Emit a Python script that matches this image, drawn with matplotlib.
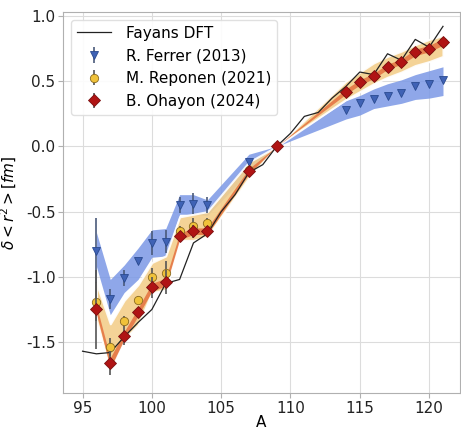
import numpy as np
import matplotlib
matplotlib.use("Agg")
import matplotlib.pyplot as plt

# Fayans DFT curve
fayans_A = list(range(95, 122))
fayans_val = [-1.57, -1.59, -1.58, -1.46, -1.35, -1.25, -1.05, -1.02, -0.74, -0.67,
              -0.50, -0.37, -0.20, -0.14, 0.0, 0.10, 0.23, 0.26, 0.37, 0.46,
              0.57, 0.55, 0.71, 0.66, 0.82, 0.76, 0.92]

# R. Ferrer (2013)
ferrer_A = [96, 97, 98, 99, 100, 101, 102, 103, 104, 107,
            114, 115, 116, 117, 118, 119, 120, 121]
ferrer_val = [-0.80, -1.17, -1.01, -0.88, -0.74, -0.73, -0.45, -0.44, -0.45, -0.12,
              0.28, 0.33, 0.36, 0.39, 0.41, 0.46, 0.48, 0.51]
ferrer_err = [0.25, 0.08, 0.06, 0.02, 0.09, 0.09, 0.06, 0.08, 0.06, 0.02,
              0.01, 0.01, 0.01, 0.01, 0.01, 0.01, 0.01, 0.01]
ferrer_band_A = [96, 97, 98, 99, 100, 101, 102, 103, 104, 107, 109,
                 114, 115, 116, 117, 118, 119, 120, 121]
ferrer_lo = [-0.92, -1.29, -1.12, -1.02, -0.85, -0.84, -0.52, -0.52, -0.53, -0.20, 0.0,
             0.21, 0.24, 0.29, 0.31, 0.33, 0.36, 0.37, 0.39]
ferrer_hi = [-0.66, -1.02, -0.91, -0.78, -0.64, -0.63, -0.37, -0.37, -0.41, -0.06, 0.0,
             0.35, 0.39, 0.44, 0.48, 0.51, 0.55, 0.58, 0.61]

# M. Reponen (2021)
reponen_A = [96, 97, 98, 99, 100, 101, 102, 103, 104, 107,
             114, 115, 116, 117, 118, 119, 120, 121]
reponen_val = [-1.19, -1.54, -1.34, -1.18, -1.00, -0.97, -0.65, -0.61, -0.59, -0.18,
               0.42, 0.49, 0.54, 0.61, 0.65, 0.72, 0.75, 0.80]
reponen_err = [0.15, 0.07, 0.04, 0.03, 0.07, 0.09, 0.04, 0.06, 0.04, 0.02,
               0.01, 0.01, 0.01, 0.01, 0.01, 0.01, 0.01, 0.01]
reponen_band_A = [96, 97, 98, 99, 100, 101, 102, 103, 104, 107, 109,
                  114, 115, 116, 117, 118, 119, 120, 121]
reponen_lo = [-1.33, -1.72, -1.48, -1.37, -1.12, -1.10, -0.72, -0.72, -0.69, -0.24, 0.0,
              0.36, 0.42, 0.48, 0.53, 0.57, 0.62, 0.65, 0.69]
reponen_hi = [-1.05, -1.36, -1.18, -1.06, -0.89, -0.84, -0.54, -0.52, -0.50, -0.12, 0.0,
              0.50, 0.57, 0.64, 0.69, 0.73, 0.78, 0.82, 0.85]

# B. Ohayon (2024)
ohayon_A = [96, 97, 98, 99, 100, 101, 102, 103, 104, 107, 109,
            114, 115, 116, 117, 118, 119, 120, 121]
ohayon_val = [-1.25, -1.66, -1.45, -1.27, -1.08, -1.04, -0.69, -0.65, -0.65, -0.19, 0.0,
              0.42, 0.49, 0.54, 0.61, 0.65, 0.72, 0.75, 0.80]
ohayon_err = [0.30, 0.09, 0.07, 0.03, 0.08, 0.09, 0.04, 0.05, 0.04, 0.02, 0.0,
              0.02, 0.02, 0.02, 0.02, 0.02, 0.02, 0.02, 0.02]
ohayon_sys = [0.03, 0.04, 0.03, 0.03, 0.03, 0.03, 0.025, 0.025, 0.025, 0.02, 0.0,
              0.02, 0.02, 0.02, 0.02, 0.02, 0.025, 0.025, 0.025]

plt.rcParams['font.size'] = 11
plt.rcParams['axes.unicode_minus'] = False

fig = plt.figure(figsize=(4.61, 4.29), dpi=100)
ax = fig.add_axes([0.137, 0.084, 0.860, 0.888])

ax.fill_between(ferrer_band_A, ferrer_lo, ferrer_hi, color='#7b98e6', alpha=0.85,
                lw=0, zorder=1)
ax.fill_between(reponen_band_A, reponen_lo, reponen_hi, color='#f3cf8c', alpha=0.9,
                edgecolor='white', lw=1.5, zorder=2)
oh = np.array(ohayon_val)
sy = np.array(ohayon_sys)
ax.fill_between(ohayon_A, oh - sy, oh + sy, color='#e4703f', alpha=0.85, lw=0, zorder=3)

ax.plot(fayans_A, fayans_val, color='#222222', lw=0.9, label='Fayans DFT', zorder=4)

ax.errorbar(ferrer_A, ferrer_val, yerr=ferrer_err, fmt='v', ms=6,
            color='#3f62b5', mec='#2a4a90', mew=0.6,
            ecolor='#4a5a7a', elinewidth=1.2, label='R. Ferrer (2013)', zorder=5)
ax.errorbar(reponen_A, reponen_val, yerr=reponen_err, fmt='o', ms=6,
            color='#f0c23a', mec='#8a6a20', mew=0.6,
            ecolor='#555555', elinewidth=1.2, label='M. Reponen (2021)', zorder=6)
ax.errorbar(ohayon_A, ohayon_val, yerr=ohayon_err, fmt='D', ms=5.8,
            color='#b01414', mec='#7a1010', mew=0.6,
            ecolor='#555555', elinewidth=1.2, label='B. Ohayon (2024)', zorder=7)

ax.set_xlim(93.6, 122.2)
ax.set_ylim(-1.89, 1.03)
ax.set_xticks([95, 100, 105, 110, 115, 120])
ax.set_yticks([-1.5, -1.0, -0.5, 0.0, 0.5, 1.0])
ax.grid(True, color='#dcdcdc', lw=0.8)
ax.set_axisbelow(True)
for s in ax.spines.values():
    s.set_color('#b0b0b0')
ax.tick_params(colors='#b0b0b0', labelcolor='#222222', length=3.5, pad=2)

ax.set_xlabel('A')
ax.set_ylabel(r'$\delta < r^2 > [fm]$')
ax.xaxis.set_label_coords(0.5, -0.058)
ax.yaxis.set_label_coords(-0.112, 0.5)

ax.legend(loc='upper left', fontsize=11, framealpha=0.9, edgecolor='#dddddd',
          borderaxespad=0.5, handlelength=2.2, handletextpad=1.0)

fig.savefig('out.png', dpi=100)
